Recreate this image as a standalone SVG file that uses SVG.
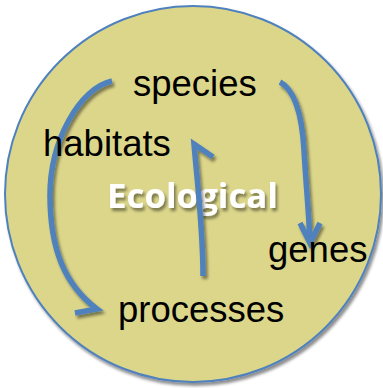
<svg xmlns="http://www.w3.org/2000/svg" width="383" height="388" viewBox="0 0 383 388">
<defs>
<filter id="sh" x="-20%" y="-20%" width="140%" height="140%">
<feGaussianBlur in="SourceAlpha" stdDeviation="1.8"/>
<feOffset dx="2" dy="3" result="b"/>
<feComponentTransfer><feFuncA type="linear" slope="0.45"/></feComponentTransfer>
<feMerge><feMergeNode/><feMergeNode in="SourceGraphic"/></feMerge>
</filter>
</defs>
<style>
.lbl{font-family:"Liberation Sans",Arial,sans-serif;font-size:36.5px;fill:#000}
.arr{fill:none;stroke:#4f81bd;stroke-width:5.5;stroke-linecap:butt;stroke-linejoin:miter}
.eco{font-family:"Open Sans",Lato,sans-serif;font-weight:bold;font-size:34px;fill:#fff}
</style>
<g id="circle" filter="url(#sh)">
<circle cx="193" cy="194" r="188" fill="#dbd68a" stroke="#4f81bd" stroke-width="2"/>
</g>
<g id="ecological" filter="url(#sh)">
<text class="eco" x="107" y="208" textLength="171" lengthAdjust="spacingAndGlyphs">Ecological</text>
</g>
<g id="connectors" filter="url(#sh)">
<path class="arr" d="M112,81 C80,88 50,140 50,195 C50,250 65,285 97,309 L75,313"/>
<path class="arr" d="M203,276 C203,230 198,190 194,144 L213,157"/>
<path class="arr" d="M280,82 C295,90 302,115 304,150 C306,185 309,215 310,243"/>
<path class="arr" d="M300,223 L310,243 L320,223"/>
</g>
<g id="species"><text class="lbl" x="133" y="96">species</text></g>
<g id="habitats"><text class="lbl" x="43" y="156">habitats</text></g>
<g id="genes"><text class="lbl" x="268" y="262">genes</text></g>
<g id="processes"><text class="lbl" x="118" y="322">processes</text></g>
</svg>
